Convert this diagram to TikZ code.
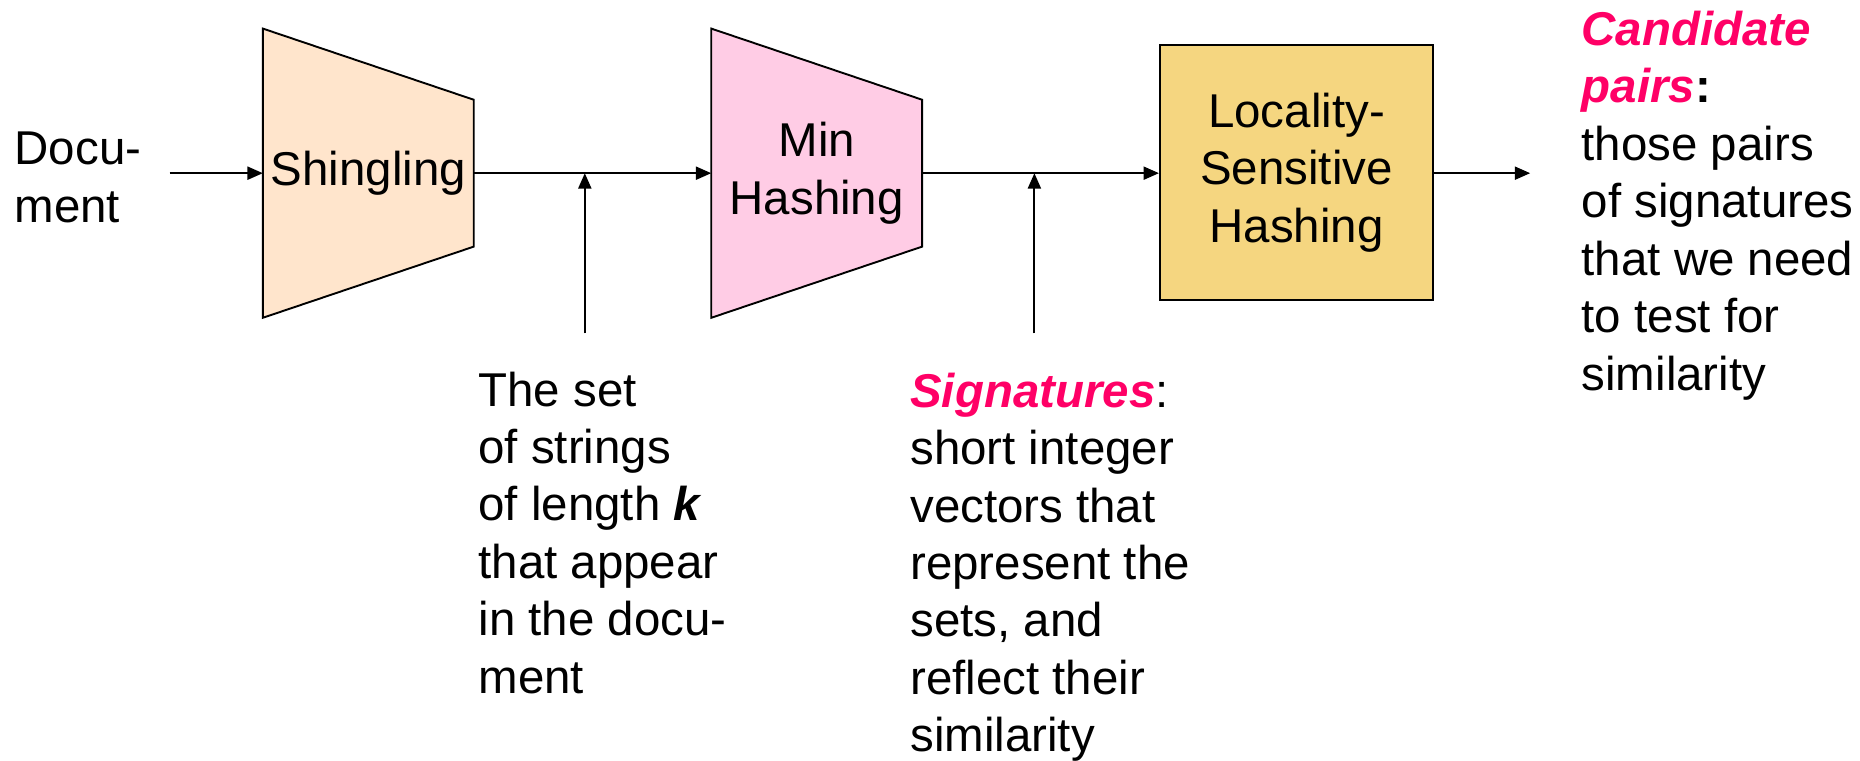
\documentclass[tikz,border=0pt]{standalone}
\usepackage{fontspec}
\setmainfont{Liberation Sans}
\usetikzlibrary{arrows.meta,backgrounds,calc}
\definecolor{peach}{RGB}{255,229,204}
\definecolor{pinkfill}{RGB}{255,204,229}
\definecolor{lshfill}{RGB}{245,214,128}
\definecolor{hot}{RGB}{255,0,102}
\begin{document}
\begin{tikzpicture}[x=0.5pt,y=-0.5pt,
  txt/.style={font=\fontsize{20}{24.2}\selectfont, inner sep=0pt},
  blk/.style={txt, align=left, anchor=north west},
  funnel/.style={txt, align=center, minimum width=88.5pt, minimum height=121.5pt},
  lshbox/.style={txt, align=center, draw, line width=1pt, fill=lshfill, minimum width=115pt, minimum height=107.5pt},
  trap/.style={draw, line width=0.8pt},
  arr/.style={-{Triangle[length=6.5pt,width=5.5pt]}, line width=0.85pt}
]
\useasboundingbox (0,0) rectangle (1568,641);

% process nodes
\node[funnel] (shin) at (310.5,146) {Shingling};
\node[funnel] (minh) at (688.5,146) {Min\\Hashing};
\node[lshbox] (lsh) at (1093,145.5) {Locality-\\Sensitive\\Hashing};

\begin{scope}[on background layer]
  \draw[trap, fill=peach] (shin.north west) -- ([yshift=-30pt]shin.north east)
     -- ([yshift=30pt]shin.south east) -- (shin.south west) -- cycle;
  \draw[trap, fill=pinkfill] (minh.north west) -- ([yshift=-30pt]minh.north east)
     -- ([yshift=30pt]minh.south east) -- (minh.south west) -- cycle;
\end{scope}

% text blocks
\node[blk] (doc) at (12,111) {Docu-\\ment};
\node[blk] (cand) at (1333,9) {{\bfseries\itshape\color{hot}Candidate}\\{\bfseries\itshape\color{hot}pairs}\textbf{:}\\those pairs\\of signatures\\that we need\\to test for\\similarity};
\node[blk] (strs) at (403,313) {The set\\of strings\\of length \textbf{\textit{k}}\\that appear\\in the docu-\\ment};
\node[blk] (sigs) at (767,314) {{\bfseries\itshape\color{hot}Signatures}:\\short integer\\vectors that\\represent the\\sets, and\\reflect their\\similarity};

% free ends
\coordinate (docin) at (143,146);
\coordinate (up1) at (493,281);
\coordinate (up2) at (872,281);
\coordinate (out) at (1290,146);

% connectors
\draw[arr] (docin) -- (shin.west);
\draw[arr] (shin.east) -- (minh.west);
\draw[arr] (minh.east) -- (minh.east -| lsh.west);
\draw[arr] (lsh.east |- minh.east) -- (out);
\draw[arr] (up1) -- (up1 |- shin.east);
\draw[arr] (up2) -- (up2 |- minh.east);
\end{tikzpicture}
\end{document}
